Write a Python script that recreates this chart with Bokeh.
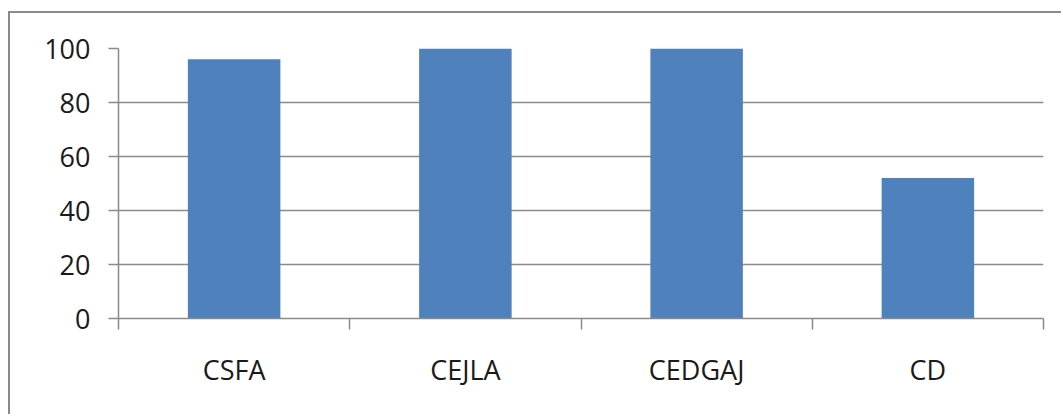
from bokeh.plotting import figure
from bokeh.models import Range1d, LinearAxis, FixedTicker
from bokeh.embed import file_html
from bokeh.resources import INLINE

# Data
categories = ["CSFA", "CEJLA", "CEDGAJ", "CD"]
values = [96, 100, 100, 52]
y_ticks = [0, 20, 40, 60, 80, 100]

BAR_COLOR = "#4F81BD"
LINE_GRAY = "#8a8a8a"
TEXT_COLOR = "#1a1a1a"
FONT = "Open Sans"
FONT_SIZE = "27px"

n = len(categories)
centers = [i + 0.5 for i in range(n)]
edges = list(range(n + 1))

# the chart sits inside a frame whose left/top edges are visible
p = figure(width=1053, height=403, output_backend="svg", toolbar_location=None,
           x_range=Range1d(0, n), y_range=Range1d(0, 100),
           x_axis_location=None, y_axis_location=None,
           min_border_left=108, min_border_right=20,
           min_border_top=35, min_border_bottom=98,
           styles={"margin-left": "8px", "margin-top": "11px",
                   "border-left": f"2px solid {LINE_GRAY}",
                   "border-top": f"2px solid {LINE_GRAY}"})
p.outline_line_color = None
p.background_fill_color = "white"
p.border_fill_color = "white"

# category axis: names at the centres, tick marks at the boundaries
x_axis = LinearAxis(ticker=FixedTicker(ticks=centers, minor_ticks=edges))
x_axis.major_label_overrides = {c: name for c, name in zip(centers, categories)}
x_axis.axis_line_color = LINE_GRAY
x_axis.axis_line_width = 1.5
x_axis.major_tick_line_color = None
x_axis.major_tick_out = 0
x_axis.major_tick_in = 0
x_axis.minor_tick_line_color = LINE_GRAY
x_axis.minor_tick_line_width = 1.5
x_axis.minor_tick_out = 11
x_axis.minor_tick_in = 0
x_axis.major_label_standoff = 21
x_axis.major_label_text_font = FONT
x_axis.major_label_text_font_size = FONT_SIZE
x_axis.major_label_text_color = TEXT_COLOR
p.add_layout(x_axis, "below")

# value axis
y_axis = LinearAxis(ticker=FixedTicker(ticks=y_ticks))
y_axis.axis_line_color = LINE_GRAY
y_axis.axis_line_width = 1.5
y_axis.major_tick_line_color = LINE_GRAY
y_axis.major_tick_line_width = 1.5
y_axis.major_tick_out = 10
y_axis.major_tick_in = 0
y_axis.minor_tick_line_color = None
y_axis.major_label_standoff = 18
y_axis.major_label_text_font = FONT
y_axis.major_label_text_font_size = FONT_SIZE
y_axis.major_label_text_color = TEXT_COLOR
p.add_layout(y_axis, "left")

p.xgrid.visible = False
p.ygrid.ticker = FixedTicker(ticks=y_ticks)
p.ygrid.grid_line_color = LINE_GRAY
p.ygrid.grid_line_width = 1.5

p.vbar(x=centers, top=values, width=0.4, color=BAR_COLOR, line_color=None)

open("out.html", "w").write(file_html(p, INLINE))
